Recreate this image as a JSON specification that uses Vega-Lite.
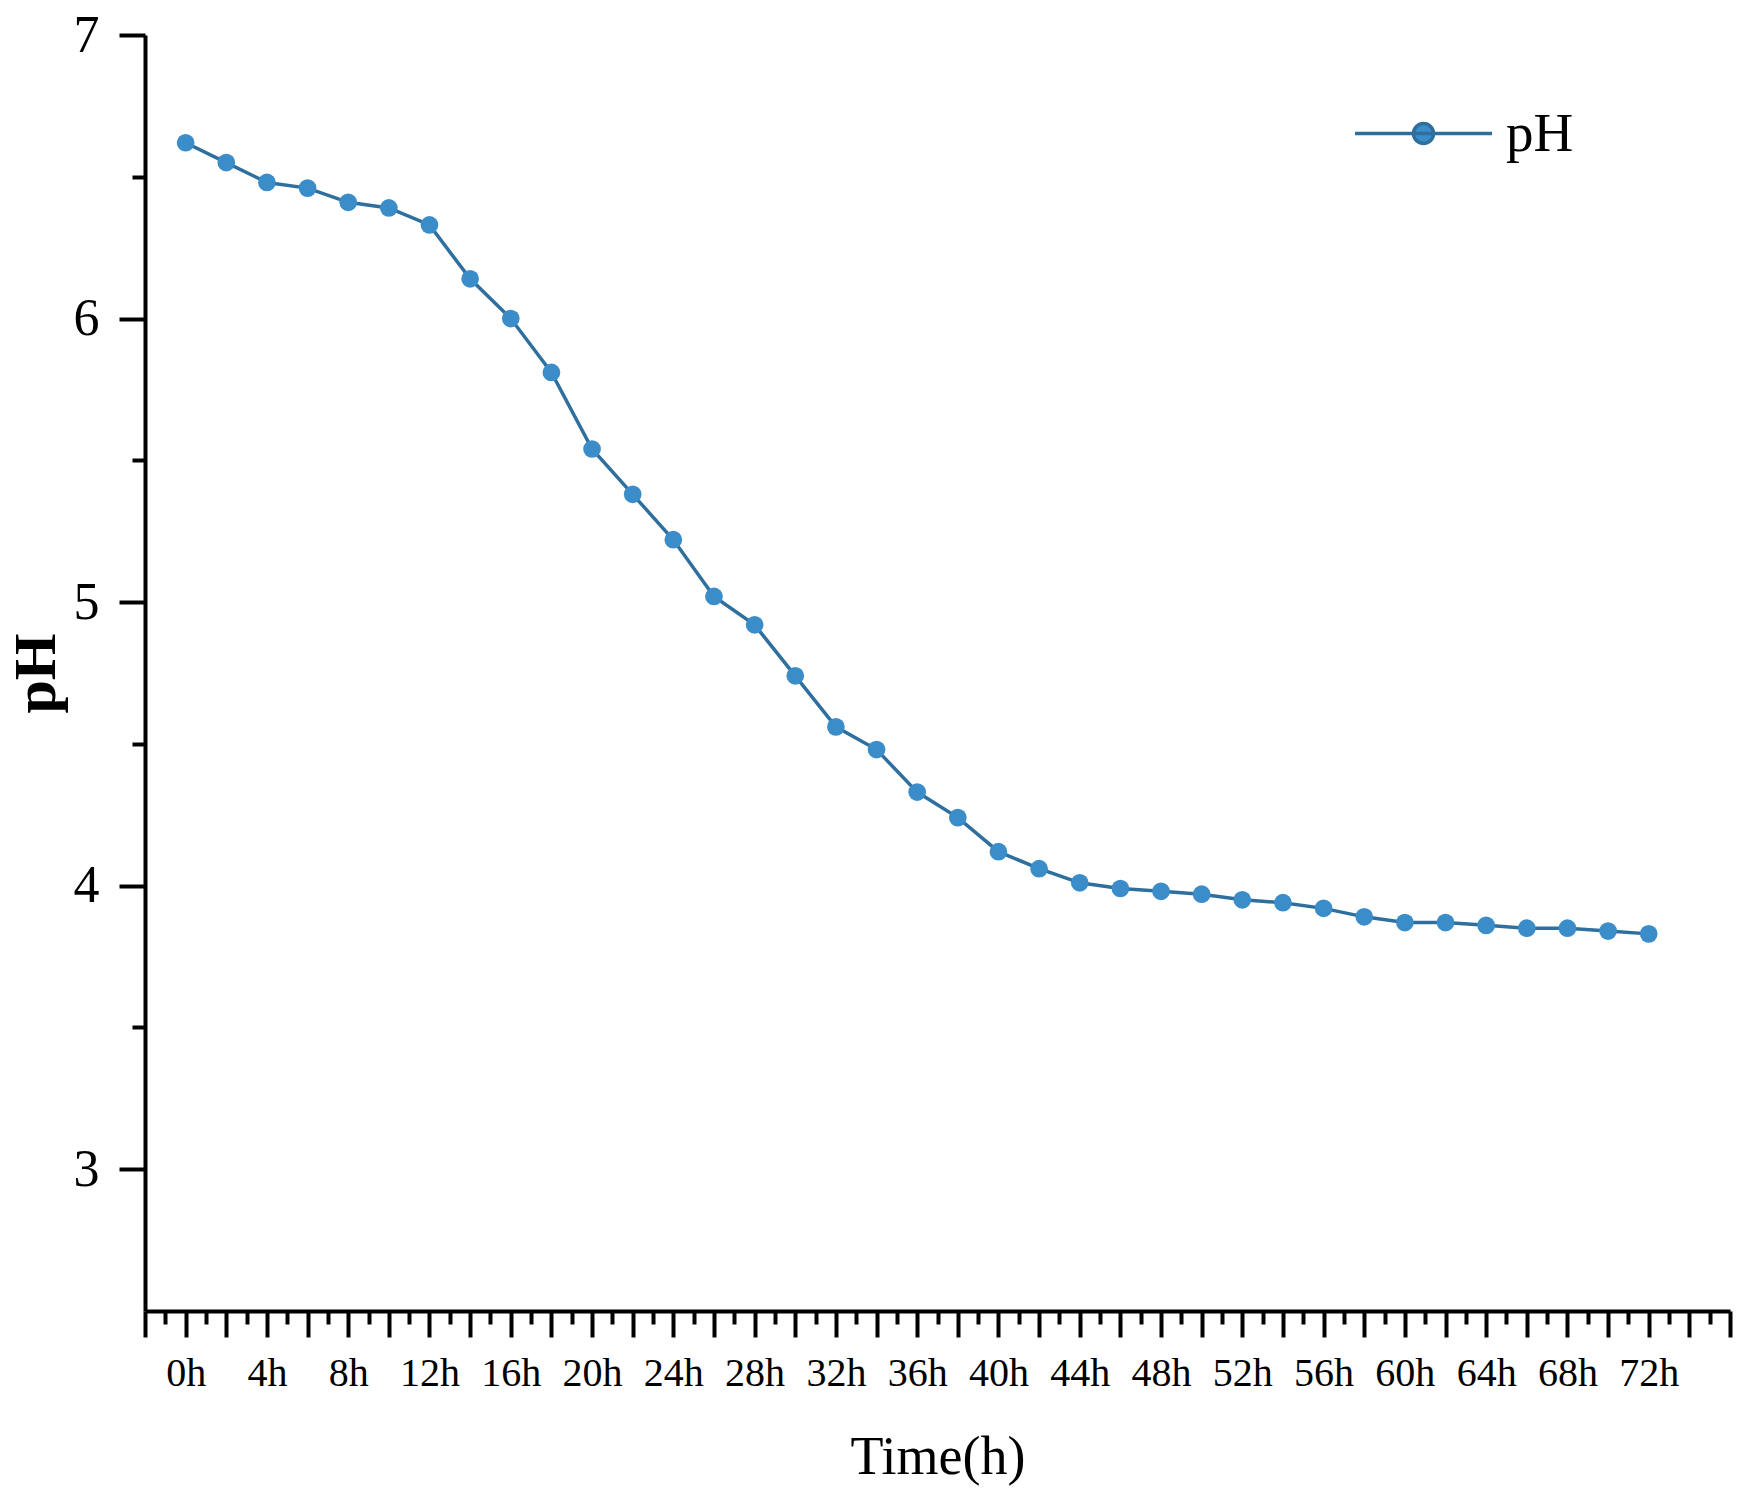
{
  "$schema": "https://vega.github.io/schema/vega-lite/v6.json",
  "width": 1585,
  "height": 1276,
  "autosize": {"type": "none"},
  "padding": {"left": 145, "top": 35, "right": 16, "bottom": 192},
  "background": "white",
  "config": {"view": {"stroke": null}, "font": "Liberation Serif"},
  "data": {
    "values": [
      {"t": 0, "pH": 6.62, "series": "pH"},
      {"t": 2, "pH": 6.55, "series": "pH"},
      {"t": 4, "pH": 6.48, "series": "pH"},
      {"t": 6, "pH": 6.46, "series": "pH"},
      {"t": 8, "pH": 6.41, "series": "pH"},
      {"t": 10, "pH": 6.39, "series": "pH"},
      {"t": 12, "pH": 6.33, "series": "pH"},
      {"t": 14, "pH": 6.14, "series": "pH"},
      {"t": 16, "pH": 6.00, "series": "pH"},
      {"t": 18, "pH": 5.81, "series": "pH"},
      {"t": 20, "pH": 5.54, "series": "pH"},
      {"t": 22, "pH": 5.38, "series": "pH"},
      {"t": 24, "pH": 5.22, "series": "pH"},
      {"t": 26, "pH": 5.02, "series": "pH"},
      {"t": 28, "pH": 4.92, "series": "pH"},
      {"t": 30, "pH": 4.74, "series": "pH"},
      {"t": 32, "pH": 4.56, "series": "pH"},
      {"t": 34, "pH": 4.48, "series": "pH"},
      {"t": 36, "pH": 4.33, "series": "pH"},
      {"t": 38, "pH": 4.24, "series": "pH"},
      {"t": 40, "pH": 4.12, "series": "pH"},
      {"t": 42, "pH": 4.06, "series": "pH"},
      {"t": 44, "pH": 4.01, "series": "pH"},
      {"t": 46, "pH": 3.99, "series": "pH"},
      {"t": 48, "pH": 3.98, "series": "pH"},
      {"t": 50, "pH": 3.97, "series": "pH"},
      {"t": 52, "pH": 3.95, "series": "pH"},
      {"t": 54, "pH": 3.94, "series": "pH"},
      {"t": 56, "pH": 3.92, "series": "pH"},
      {"t": 58, "pH": 3.89, "series": "pH"},
      {"t": 60, "pH": 3.87, "series": "pH"},
      {"t": 62, "pH": 3.87, "series": "pH"},
      {"t": 64, "pH": 3.86, "series": "pH"},
      {"t": 66, "pH": 3.85, "series": "pH"},
      {"t": 68, "pH": 3.85, "series": "pH"},
      {"t": 70, "pH": 3.84, "series": "pH"},
      {"t": 72, "pH": 3.83, "series": "pH"}
    ]
  },
  "encoding": {
    "x": {
      "field": "t",
      "type": "quantitative",
      "scale": {"domain": [-2, 76], "nice": false, "zero": false},
      "axis": {
        "values": [-2,-1,0,1,2,3,4,5,6,7,8,9,10,11,12,13,14,15,16,17,18,19,20,21,22,23,24,25,26,27,28,29,30,31,32,33,34,35,36,37,38,39,40,41,42,43,44,45,46,47,48,49,50,51,52,53,54,55,56,57,58,59,60,61,62,63,64,65,66,67,68,69,70,71,72,73,74,75,76],
        "labelExpr": "(datum.value % 4 === 0 && datum.value >= 0 && datum.value <= 72) ? datum.value + 'h' : ''",
        "tickSize": {"condition": {"test": "datum.value % 2 === 0", "value": 26}, "value": 13},
        "tickWidth": 4,
        "tickColor": "black",
        "domainColor": "black",
        "domainWidth": 4,
        "grid": false,
        "labelFontSize": 40,
        "labelFont": "Liberation Serif",
        "labelColor": "black",
        "labelPadding": 16,
        "labelFlush": false,
        "labelOverlap": false,
        "labelBound": false,
        "title": "Time(h)",
        "titleFont": "Liberation Serif",
        "titleFontSize": 54,
        "titleFontWeight": "normal",
        "titleColor": "black",
        "titlePadding": 37
      }
    },
    "y": {
      "field": "pH",
      "type": "quantitative",
      "scale": {"domain": [2.5, 7], "nice": false, "zero": false},
      "axis": {
        "values": [3, 3.5, 4, 4.5, 5, 5.5, 6, 6.5, 7],
        "labelExpr": "datum.value % 1 === 0 ? format(datum.value, 'd') : ''",
        "tickSize": {"condition": {"test": "datum.value % 1 === 0", "value": 26}, "value": 13},
        "tickWidth": 4,
        "tickColor": "black",
        "domainColor": "black",
        "domainWidth": 4,
        "grid": false,
        "labelFontSize": 52,
        "labelFont": "Liberation Serif",
        "labelColor": "black",
        "labelPadding": 20,
        "labelFlush": false,
        "labelOverlap": false,
        "labelBound": false,
        "title": "pH",
        "titleFont": "Liberation Serif",
        "titleFontSize": 60,
        "titleFontWeight": "bold",
        "titleColor": "black",
        "titlePadding": 6
      }
    }
  },
  "layer": [
    {
      "mark": {"type": "line", "strokeWidth": 3.5},
      "encoding": {
        "color": {
          "field": "series",
          "type": "nominal",
          "scale": {"range": ["#2E6F9E"]},
          "legend": {
            "title": null,
            "orient": "none",
            "legendX": 1208,
            "legendY": 28,
            "padding": 0,
            "symbolType": "M-1,0H1M-0.146,0A0.146,0.146 0 1,0 0.146,0A0.146,0.146 0 1,0 -0.146,0Z",
            "symbolSize": 18769,
            "symbolStrokeWidth": 3.5,
            "symbolFillColor": "#3A8DC9",
            "symbolStrokeColor": "#2E6F9E",
            "labelFont": "Liberation Serif",
            "labelFontSize": 55,
            "labelColor": "black",
            "labelOffset": 12,
            "labelLimit": 0,
            "encode": {
              "symbols": {
                "update": {
                  "fill": {"value": "#3A8DC9"},
                  "stroke": {"value": "#2E6F9E"},
                  "strokeWidth": {"value": 3.5},
                  "opacity": {"value": 1}
                }
              }
            }
          }
        }
      }
    },
    {
      "mark": {"type": "point", "filled": true, "size": 314, "color": "#3A8DC9", "opacity": 1}
    }
  ]
}
